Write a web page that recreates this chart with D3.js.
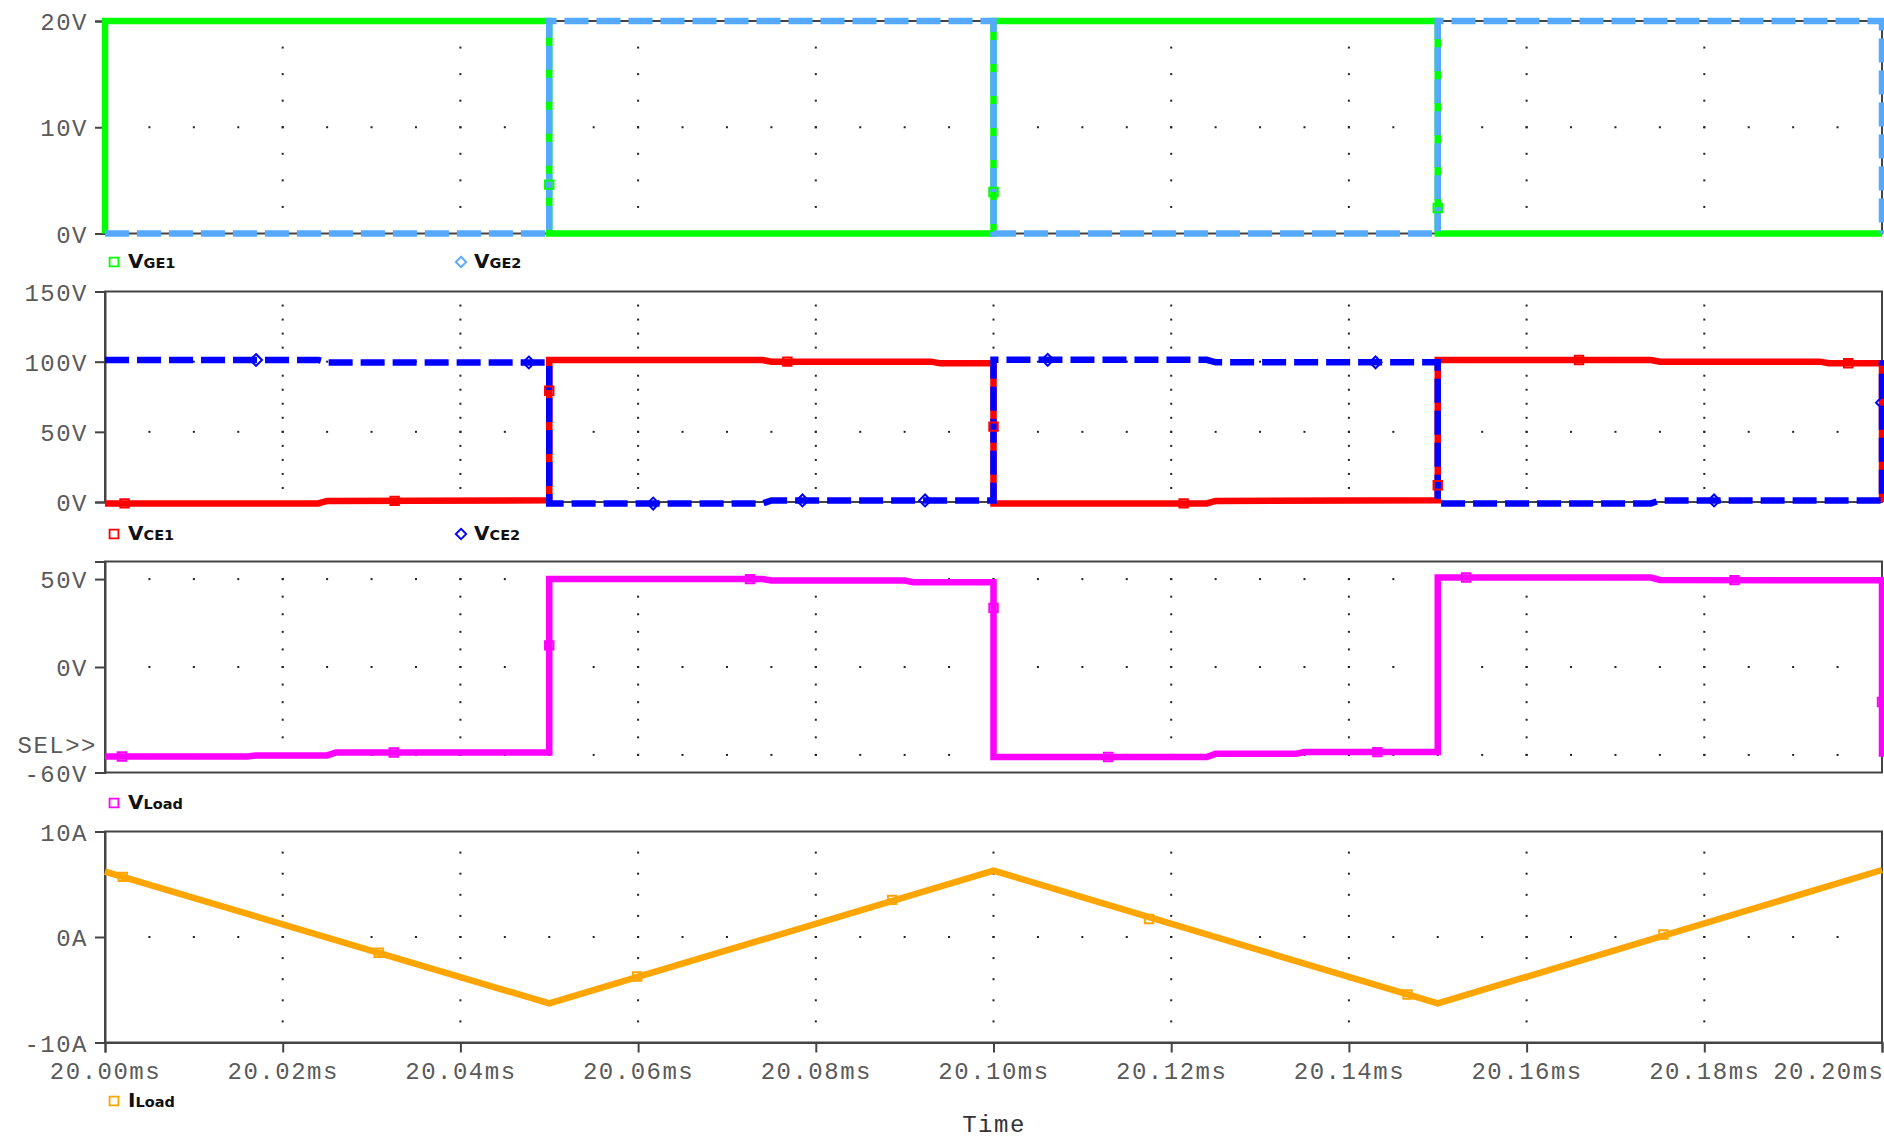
<!DOCTYPE html>
<html>
<head>
<meta charset="utf-8">
<script src="https://cdn.jsdelivr.net/npm/d3@7"></script>
<style>
  body { margin: 0; background: #fff; }
  svg { display: block; }
</style>
</head>
<body>
<svg id="chart" width="1884" height="1139"></svg>
<script>
// ---- time axis -------------------------------------------------------------
const timeDomain = [20.00, 20.20];
const timeTicks = [20.00, 20.02, 20.04, 20.06, 20.08, 20.10, 20.12, 20.14, 20.16, 20.18, 20.20];
const timeTickLabels = ["20.00ms", "20.02ms", "20.04ms", "20.06ms", "20.08ms", "20.10ms",
                        "20.12ms", "20.14ms", "20.16ms", "20.18ms", "20.20ms"];

// ---- gate-emitter voltages [ms, V] ------------------------------------------
const vge1 = [[20.000, 0], [20.000, 20], [20.050, 20], [20.050, 0], [20.100, 0],
              [20.100, 20], [20.150, 20], [20.150, 0], [20.200, 0]];
const vge2 = [[20.000, 0], [20.050, 0], [20.050, 20], [20.100, 20], [20.100, 0],
              [20.150, 0], [20.150, 20], [20.200, 20], [20.200, 0]];
const vge1Markers = [[20.050, 4.6], [20.100, 3.9], [20.150, 2.4]];
const vge2Markers = [];

// ---- collector-emitter voltages [ms, V] -------------------------------------
const vce1 = [[20.000, -1.0], [20.024, -1.0], [20.025, 0.8], [20.050, 1.2], [20.050, 101.2],
              [20.074, 101.2], [20.075, 100.0], [20.093, 100.0], [20.094, 98.8], [20.100, 98.8],
              [20.100, -1.0], [20.124, -1.0], [20.125, 0.8], [20.150, 1.2], [20.150, 101.2],
              [20.174, 101.2], [20.175, 100.0], [20.193, 100.0], [20.194, 98.9], [20.200, 98.9],
              [20.200, 0]];
const vce2 = [[20.000, 101.2], [20.024, 101.2], [20.025, 99.4], [20.050, 99.4], [20.050, -1.1],
              [20.074, -1.1], [20.075, 1.1], [20.100, 1.1], [20.100, 101.3], [20.124, 101.3],
              [20.125, 99.5], [20.150, 99.5], [20.150, -1.0], [20.174, -1.0], [20.175, 1.1],
              [20.200, 1.1], [20.200, 101.0]];
const vce1Markers = [[20.0022, -1.0], [20.0326, 0.8], [20.050, 79.3], [20.0768, 100.0],
                     [20.100, 53.7], [20.1214, -1.0], [20.150, 11.9], [20.1659, 101.2], [20.1962, 98.9]];
const vce2Markers = [[20.0170, 101.2], [20.0477, 99.4], [20.0617, -1.1], [20.0785, 1.1],
                     [20.0923, 1.1], [20.1061, 101.3], [20.1430, 99.5], [20.1811, 1.1], [20.200, 70.8]];

// ---- load voltage [ms, V] ---------------------------------------------------
const vload = [[20.000, -50.9], [20.016, -50.9], [20.017, -50.3], [20.025, -50.3], [20.026, -48.6],
               [20.050, -48.6], [20.050, 50.0], [20.074, 50.0], [20.075, 49.2], [20.090, 49.2],
               [20.091, 48.2], [20.100, 48.2], [20.100, -51.2], [20.124, -51.2], [20.125, -49.4],
               [20.134, -49.4], [20.135, -48.4], [20.150, -48.4], [20.150, 50.9], [20.174, 50.9],
               [20.175, 49.5], [20.200, 49.3], [20.200, -51.0]];
const vloadMarkers = [[20.0019, -50.9], [20.0325, -48.6], [20.050, 12.3], [20.0726, 50.0],
                      [20.100, 33.6], [20.1129, -51.2], [20.1432, -48.4], [20.1532, 50.9],
                      [20.1834, 49.4], [20.200, -19.9]];

// ---- load current [ms, A] ---------------------------------------------------
const iload = [[20.000, 6.2], [20.050, -6.3], [20.100, 6.3], [20.150, -6.3], [20.200, 6.35]];
const iloadMarkers = [[20.002, 5.7], [20.0308, -1.5], [20.0599, -3.75], [20.0886, 3.52],
                      [20.1175, 1.7], [20.1466, -5.45], [20.1754, 0.23]];

// ---- panel definitions --------------------------------------------------------
const panels = [
  { top: 21, bottom: 233.5, domain: [0, 20], ticks: [0, 10, 20], labels: ["0V", "10V", "20V"],
    minor: 2.5, rows: [10],
    series: [
      { name: "V", sub: "GE1", data: vge1, markers: vge1Markers, color: "#00ff00", dash: null, symbol: "square" },
      { name: "V", sub: "GE2", data: vge2, markers: vge2Markers, color: "#55aaff", dash: "24,8", symbol: "diamond" }
    ], legendY: 268 },
  { top: 291.5, bottom: 502, domain: [0, 150], ticks: [0, 50, 100, 150], labels: ["0V", "50V", "100V", "150V"],
    minor: 10, rows: [50, 100],
    series: [
      { name: "V", sub: "CE1", data: vce1, markers: vce1Markers, color: "#ff0000", dash: null, symbol: "square" },
      { name: "V", sub: "CE2", data: vce2, markers: vce2Markers, color: "#0000ff", dash: "24,8", symbol: "diamond" }
    ], legendY: 540 },
  { top: 561.5, bottom: 772.5, domain: [-60, 60], ticks: [-60, 0, 50], labels: ["-60V", "0V", "50V"],
    minor: 10, rows: [-50, 0, 50], sel: true,
    series: [
      { name: "V", sub: "Load", data: vload, markers: vloadMarkers, color: "#ff00ff", dash: null, symbol: "square" }
    ], legendY: 809 },
  { top: 831.5, bottom: 1042.5, domain: [-10, 10], ticks: [-10, 0, 10], labels: ["-10A", "0A", "10A"],
    minor: 2, rows: [0], xAxis: true,
    series: [
      { name: "I", sub: "Load", data: iload, markers: iloadMarkers, color: "#ffa500", dash: null, symbol: "square" }
    ], legendY: 1107 }
];

// ---- drawing ----------------------------------------------------------------
const svg = d3.select("#chart");
const left = 105, right = 1882;
const x = d3.scaleLinear().domain(timeDomain).range([left, right]);
const monoFont = "'Liberation Mono', 'DejaVu Sans Mono', monospace";
const frameColor = "#444";
const labelColor = "#5a5a5a";

// minor time steps for dotted rows (every 0.005 ms)
const dotXs = d3.range(1, 40).map(i => timeDomain[0] + i * 0.005);
const majorInnerXs = timeTicks.slice(1, -1);

panels.forEach(p => {
  const y = d3.scaleLinear().domain(p.domain).range([p.bottom, p.top]);
  const g = svg.append("g");

  // dotted grid: columns at major time ticks, rows at major value ticks
  const nMinor = Math.round((p.domain[1] - p.domain[0]) / p.minor);
  const minorVals = d3.range(1, nMinor).map(i => p.domain[0] + i * p.minor);
  const dots = [];
  majorInnerXs.forEach(t => minorVals.forEach(v => dots.push([t, v])));
  p.rows.forEach(v => dotXs.forEach(t => dots.push([t, v])));
  g.append("g").selectAll("rect").data(dots).join("rect")
    .attr("x", d => x(d[0]) - 1).attr("y", d => y(d[1]) - 1)
    .attr("width", 2).attr("height", 2).attr("fill", "#222");

  // frame
  g.append("rect")
    .attr("x", left).attr("y", p.top)
    .attr("width", right - left).attr("height", p.bottom - p.top)
    .attr("fill", "none").attr("stroke", frameColor).attr("stroke-width", 2);

  // value axis
  const yAxis = d3.axisLeft(y).tickValues(p.ticks)
    .tickFormat((d, i) => p.labels[i]).tickSize(10).tickPadding(7);
  const ya = g.append("g").attr("transform", `translate(${left},0)`).call(yAxis);
  ya.select(".domain").attr("stroke", frameColor).attr("stroke-width", 2);
  ya.selectAll(".tick line").attr("stroke", frameColor).attr("stroke-width", 2);
  ya.selectAll(".tick text")
    .attr("font-family", monoFont).attr("font-size", 24)
    .attr("letter-spacing", 1.5).attr("fill", labelColor)
    .attr("dy", "0.36em");

  if (p.sel) {
    g.append("text").attr("x", 97).attr("y", y(-60) - 20)
      .attr("text-anchor", "end")
      .attr("font-family", monoFont).attr("font-size", 24)
      .attr("letter-spacing", 1.5).attr("fill", labelColor)
      .text("SEL>>");
  }

  // time axis on the last panel
  if (p.xAxis) {
    const xAxis = d3.axisBottom(x).tickValues(timeTicks)
      .tickFormat((d, i) => timeTickLabels[i]).tickSize(10).tickPadding(9);
    const xa = g.append("g").attr("transform", `translate(0,${p.bottom})`).call(xAxis);
    xa.select(".domain").attr("stroke", frameColor).attr("stroke-width", 2);
    xa.selectAll(".tick line").attr("stroke", frameColor).attr("stroke-width", 2);
    xa.selectAll(".tick text")
      .attr("font-family", monoFont).attr("font-size", 24)
      .attr("letter-spacing", 1.5).attr("fill", labelColor)
      .attr("text-anchor", (d, i) => i === timeTicks.length - 1 ? "end" : "middle")
      .attr("dx", (d, i) => i === timeTicks.length - 1 ? 2 : 0);
  }

  // traces
  const line = d3.line().x(d => x(d[0])).y(d => y(d[1]));
  p.series.forEach(s => {
    g.append("path").datum(s.data)
      .attr("d", line)
      .attr("fill", "none").attr("stroke", s.color)
      .attr("stroke-width", 6.5)
      .attr("stroke-linejoin", "miter")
      .attr("stroke-dasharray", s.dash);
  });
  p.series.forEach(s => {
    const sym = s.symbol === "diamond" ? d3.symbolDiamond2 : d3.symbolSquare2;
    g.append("g").selectAll("path").data(s.markers).join("path")
      .attr("transform", d => `translate(${x(d[0])},${y(d[1])})`)
      .attr("d", d3.symbol(sym, 90))
      .attr("fill", "none").attr("stroke", s.color).attr("stroke-width", 2);
  });

  // legend
  const legendXs = [[114, 128], [461, 474]];
  p.series.forEach((s, i) => {
    const [sx, tx] = legendXs[i];
    const sym = s.symbol === "diamond" ? d3.symbolDiamond2 : d3.symbolSquare2;
    g.append("path")
      .attr("transform", `translate(${sx},${p.legendY - 6})`)
      .attr("d", d3.symbol(sym, s.symbol === "diamond" ? 70 : 100))
      .attr("fill", "none").attr("stroke", s.color).attr("stroke-width", 1.8);
    const t = g.append("text").attr("x", tx).attr("y", p.legendY)
      .attr("font-family", "'DejaVu Sans', sans-serif").attr("font-weight", "bold")
      .attr("fill", "#111");
    t.append("tspan").attr("font-size", 20).text(s.name);
    t.append("tspan").attr("font-size", 14.5).text(s.sub);
  });
});

svg.append("text").attr("x", 994).attr("y", 1132)
  .attr("text-anchor", "middle")
  .attr("font-family", monoFont).attr("font-size", 24)
  .attr("letter-spacing", 1.5).attr("fill", "#333")
  .text("Time");
</script>
</body>
</html>
